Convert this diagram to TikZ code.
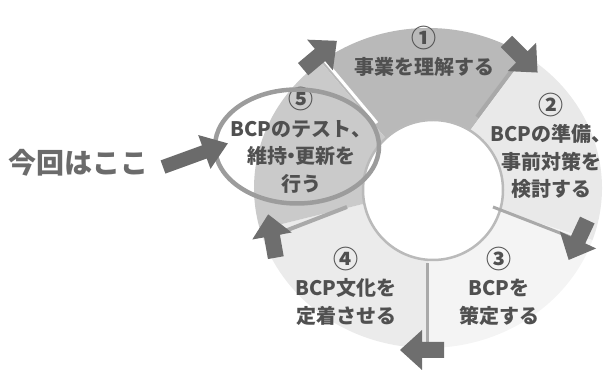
\documentclass[tikz,border=0pt]{standalone}
\usepackage{fontspec}
\setmainfont{Noto Sans CJK JP}
\definecolor{segA}{HTML}{B9B9B9}
\definecolor{segB}{HTML}{E9E9E9}
\definecolor{segC}{HTML}{F4F4F4}
\definecolor{segD}{HTML}{EBEBEB}
\definecolor{segE}{HTML}{CACACA}
\definecolor{arrowgray}{HTML}{6E6E6E}
\definecolor{linegray}{HTML}{A9A9A9}
\definecolor{textgray}{HTML}{505050}
\definecolor{herecol}{HTML}{6B6B6B}
\definecolor{ringcol}{HTML}{9C9C9C}
\tikzset{
  lbl/.style={align=center, text=textgray, font=\fontsize{20}{27.5}\selectfont\bfseries, inner sep=0pt},
  bnd/.style={line width=3pt, linegray},
  cycarrow/.style={fill=arrowgray}
}
\newcommand\num[1]{\raisebox{0pt}[14pt][0pt]{\fontsize{25}{27.5}\selectfont #1}}
\newcommand\segwedge[3]{\fill[#3] (C) -- ++(#1:174 and 160) arc[start angle=#1, end angle=#2, x radius=174, y radius=160] -- cycle;}
\newcommand\blockarrow[3]{\fill[cycarrow, shift={(#1,#2)}, rotate=#3] (-22,-8) -- (0,-8) -- (0,-20) -- (22,0) -- (0,20) -- (0,8) -- (-22,8) -- cycle;}
\begin{document}
\begin{tikzpicture}[x=1pt,y=1pt]
\useasboundingbox (0,0) rectangle (614,374);
\coordinate (C) at (428,186);
% ring segments
\segwedge{56}{128}{segA}
\segwedge{-19}{56}{segB}
\segwedge{-90}{-19}{segC}
\segwedge{195}{270}{segD}
\segwedge{128}{195}{segE}
% inner hole
\coordinate (I) at (433,184);
\fill[white] (I) circle[radius=70];
\draw[line width=2.5pt, color=linegray!80] (I) circle[radius=70];
% boundaries
\coordinate (b1i) at (377,251); \coordinate (b1o) at (320,319);
\coordinate (b2i) at (477,257); \coordinate (b2o) at (522,317);
\coordinate (b3i) at (493,167); \coordinate (b3o) at (578,134);
\coordinate (b4i) at (427,111); \coordinate (b4o) at (422,24);
\coordinate (b5i) at (347,167); \coordinate (b5o) at (272,138);
\draw[line width=3pt, white] (b1i) -- (b1o);
\draw[bnd, line width=4pt] (b2i) -- (b2o);
\draw[bnd] (b3i) -- (b3o);
\draw[bnd] (b4i) -- (427,24);
\draw[bnd, line width=4pt] (b5i) -- (b5o);
% cycle arrows
\blockarrow{320}{319}{40}
\blockarrow{522}{317}{-45}
\blockarrow{578}{134}{-115}
\blockarrow{422}{24}{180}
\blockarrow{272}{138}{100}
% labels
\node[lbl] (s1) at (424,319) {\num{①}\\事業を理解する};
\node[lbl] (s2) at (551,224.5) {\num{②}\\BCPの準備、\\事前対策を\\検討する};
\node[lbl] (s3) at (499,84) {\num{③}\\BCPを\\策定する};
\node[lbl] (s4) at (346,84) {\num{④}\\BCP文化を\\定着させる};
\node[lbl] (s5) at (301,230) {\num{⑤}\\BCPのテスト、\\維持\kern-.3em・\kern-.3em更新を\\行う};
% highlight ellipse
\draw[ringcol, line width=4.5pt] (297,227.5) ellipse[x radius=82, y radius=57];
% pointer
\node[text=herecol, font=\fontsize{28}{30}\selectfont\bfseries, inner sep=0pt, anchor=west] (here) at (8,211) {今回はここ};
\fill[herecol, shift={(163,207)}, rotate=20] (0,-7) -- (44,-7) -- (44,-18) -- (69,0) -- (44,18) -- (44,7) -- (0,7) -- cycle;
\end{tikzpicture}
\end{document}
